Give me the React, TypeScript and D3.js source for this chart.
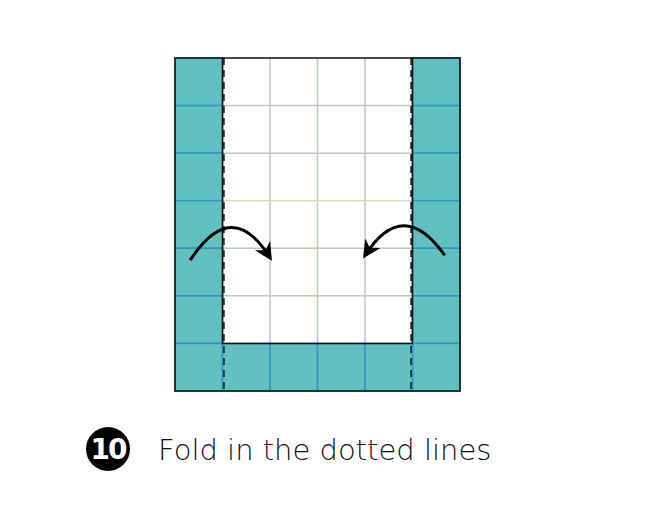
import { useEffect, useRef } from 'react';
import * as d3 from 'd3';

// grid is 6 columns x 7 rows
const cols = 6;
const rows = 7;
// teal (coloured side) cells: [col, row]
const tealCells: [number, number][] = [
  ...d3.range(rows).map(r => [0, r] as [number, number]),
  ...d3.range(rows).map(r => [5, r] as [number, number]),
  [1, 6], [2, 6], [3, 6], [4, 6],
];
// fold lines (in column units)
const foldLines = [1.03, 4.97];
// arrows: start, control, end (grid units)
const arrows: [number, number][][] = [
  [[0.32, 4.25], [1.2, 2.9], [2.0, 4.2]],
  [[5.68, 4.15], [4.8, 2.9], [4.0, 4.15]],
];
const stepNumber = '10';
const caption = 'Fold in the dotted lines';

export default function App() {
  const ref = useRef<SVGSVGElement>(null);

  useEffect(() => {
    if (!ref.current) return;
    const svg = d3.select(ref.current);
    svg.selectAll('*').remove();

    const x = d3.scaleLinear().domain([0, cols]).range([175, 460]);
    const y = d3.scaleLinear().domain([0, rows]).range([58, 391]);

    const defs = svg.append('defs');
    defs.append('marker')
      .attr('id', 'head').attr('viewBox', '0 0 10 10')
      .attr('refX', 8).attr('refY', 5)
      .attr('markerWidth', 6).attr('markerHeight', 6)
      .attr('orient', 'auto')
      .append('path').attr('d', 'M0,0 L10,5 L0,10 L3,5 Z').attr('fill', '#000');

    const g = svg.append('g');

    // paper
    g.append('rect')
      .attr('x', x(0)).attr('y', y(0))
      .attr('width', x(cols) - x(0)).attr('height', y(rows) - y(0))
      .attr('fill', '#fff');

    // inner grid (white side)
    d3.range(1, cols).forEach(c => {
      g.append('line')
        .attr('x1', x(c)).attr('x2', x(c)).attr('y1', y(0)).attr('y2', y(6))
        .attr('stroke', c === 3 ? '#b9d2b9' : '#c4c4c4').attr('stroke-width', 1.5);
    });
    d3.range(1, rows).forEach(r => {
      g.append('line')
        .attr('x1', x(1)).attr('x2', x(5)).attr('y1', y(r)).attr('y2', y(r))
        .attr('stroke', r === 3 ? '#d8dcc0' : '#c4c4c4').attr('stroke-width', 1.5);
    });

    // teal cells
    g.selectAll('.cell')
      .data(tealCells)
      .enter().append('rect')
      .attr('x', d => x(d[0])).attr('y', d => y(d[1]))
      .attr('width', x(1) - x(0)).attr('height', y(1) - y(0))
      .attr('fill', '#62c1c0')
      .attr('stroke', '#2f95c4').attr('stroke-width', 1.5);

    // outlines
    g.append('rect')
      .attr('x', x(0)).attr('y', y(0))
      .attr('width', x(cols) - x(0)).attr('height', y(rows) - y(0))
      .attr('fill', 'none').attr('stroke', '#111').attr('stroke-width', 1.5);
    g.append('path')
      .attr('d', `M${x(1)},${y(0)} V${y(6)} H${x(5)} V${y(0)}`)
      .attr('fill', 'none').attr('stroke', '#111').attr('stroke-width', 1.5);

    // fold lines
    foldLines.forEach(c => {
      g.append('line')
        .attr('x1', x(c)).attr('x2', x(c)).attr('y1', y(0)).attr('y2', y(rows))
        .attr('stroke', '#111').attr('stroke-width', 1.5)
        .attr('stroke-dasharray', '7,5');
    });

    // arrows
    arrows.forEach(a => {
      g.append('path')
        .attr('d', `M${x(a[0][0])},${y(a[0][1])} Q${x(a[1][0])},${y(a[1][1])} ${x(a[2][0])},${y(a[2][1])}`)
        .attr('fill', 'none').attr('stroke', '#000').attr('stroke-width', 3)
        .attr('marker-end', 'url(#head)');
    });

    // caption
    g.append('circle').attr('cx', 108).attr('cy', 449).attr('r', 22).attr('fill', '#000');
    g.append('text')
      .attr('x', 108).attr('y', 459).attr('text-anchor', 'middle')
      .attr('fill', '#fff').attr('font-size', 28).attr('font-weight', 'bold')
      .attr('font-family', 'DejaVu Sans').attr('letter-spacing', -2)
      .text(stepNumber);
    g.append('text')
      .attr('x', 158).attr('y', 460)
      .attr('fill', '#111').attr('font-size', 29)
      .attr('font-family', 'DejaVu Sans').attr('font-weight', 300)
      .text(caption);
  }, []);

  return <svg ref={ref} width={647} height={527} style={{ position: 'absolute', left: 0, top: 0 }} />;
}
